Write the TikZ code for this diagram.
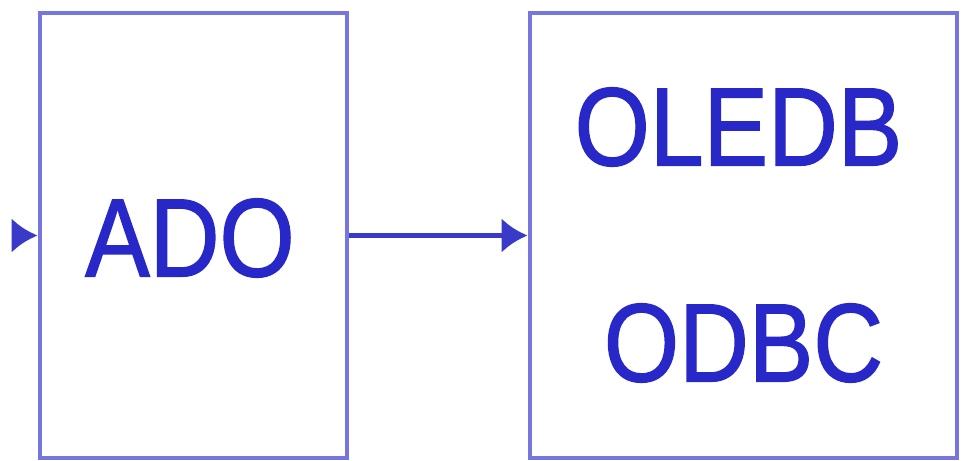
\documentclass[tikz,border=0pt]{standalone}
\usepackage{fontspec}
\usepackage{graphicx}
\usetikzlibrary{positioning}
\usetikzlibrary{arrows.meta}
\usetikzlibrary{calc}
\newfontfamily\boxfont[FakeBold=1.4]{Liberation Sans}
\definecolor{boxline}{RGB}{118,118,222}
\definecolor{arrline}{RGB}{58,58,200}
\definecolor{boxtext}{RGB}{40,40,200}
\tikzset{>={Latex[length=5.2mm,width=7mm]}}
\tikzstyle{layer}=[draw=boxline,line width=2.8pt,shape=rectangle,fill=white,inner sep=0pt]
\tikzstyle{layertext}=[text=boxtext,font=\boxfont\fontsize{55}{60}\selectfont,inner sep=0pt]
\tikzstyle{taro}=[->,line width=3pt,color=arrline]
\newcommand{\tall}[1]{\scalebox{1}[1.15]{#1}}

\begin{document}
\begin{tikzpicture}

	\useasboundingbox (0, 0) rectangle (19.3, 9.2);

	% ADO layer
	\node[layer, minimum width = 6.14cm, minimum height = 8.9cm] (ado) at (3.87, 4.49) {};
	\node[layertext] (adolabel) at ($(ado) + (-0.07, -0.05)$) {\tall{ADO}};

	% providers
	\node[layer, minimum width = 8.54cm, minimum height = 8.9cm] (prov) at (14.87, 4.49) {};
	\node[layertext] (oledb) at ($(prov) + (-0.1, 2.17)$) {\tall{OLEDB}};
	\node[layertext] (odbc) at ($(prov) + (0.0, -2.15)$) {\tall{ODBC}};

	\coordinate (app) at (0.28, 4.49);
	\draw[taro] (app) -- (ado);
	\draw[taro] (ado) -- (prov);

\end{tikzpicture}
\end{document}
